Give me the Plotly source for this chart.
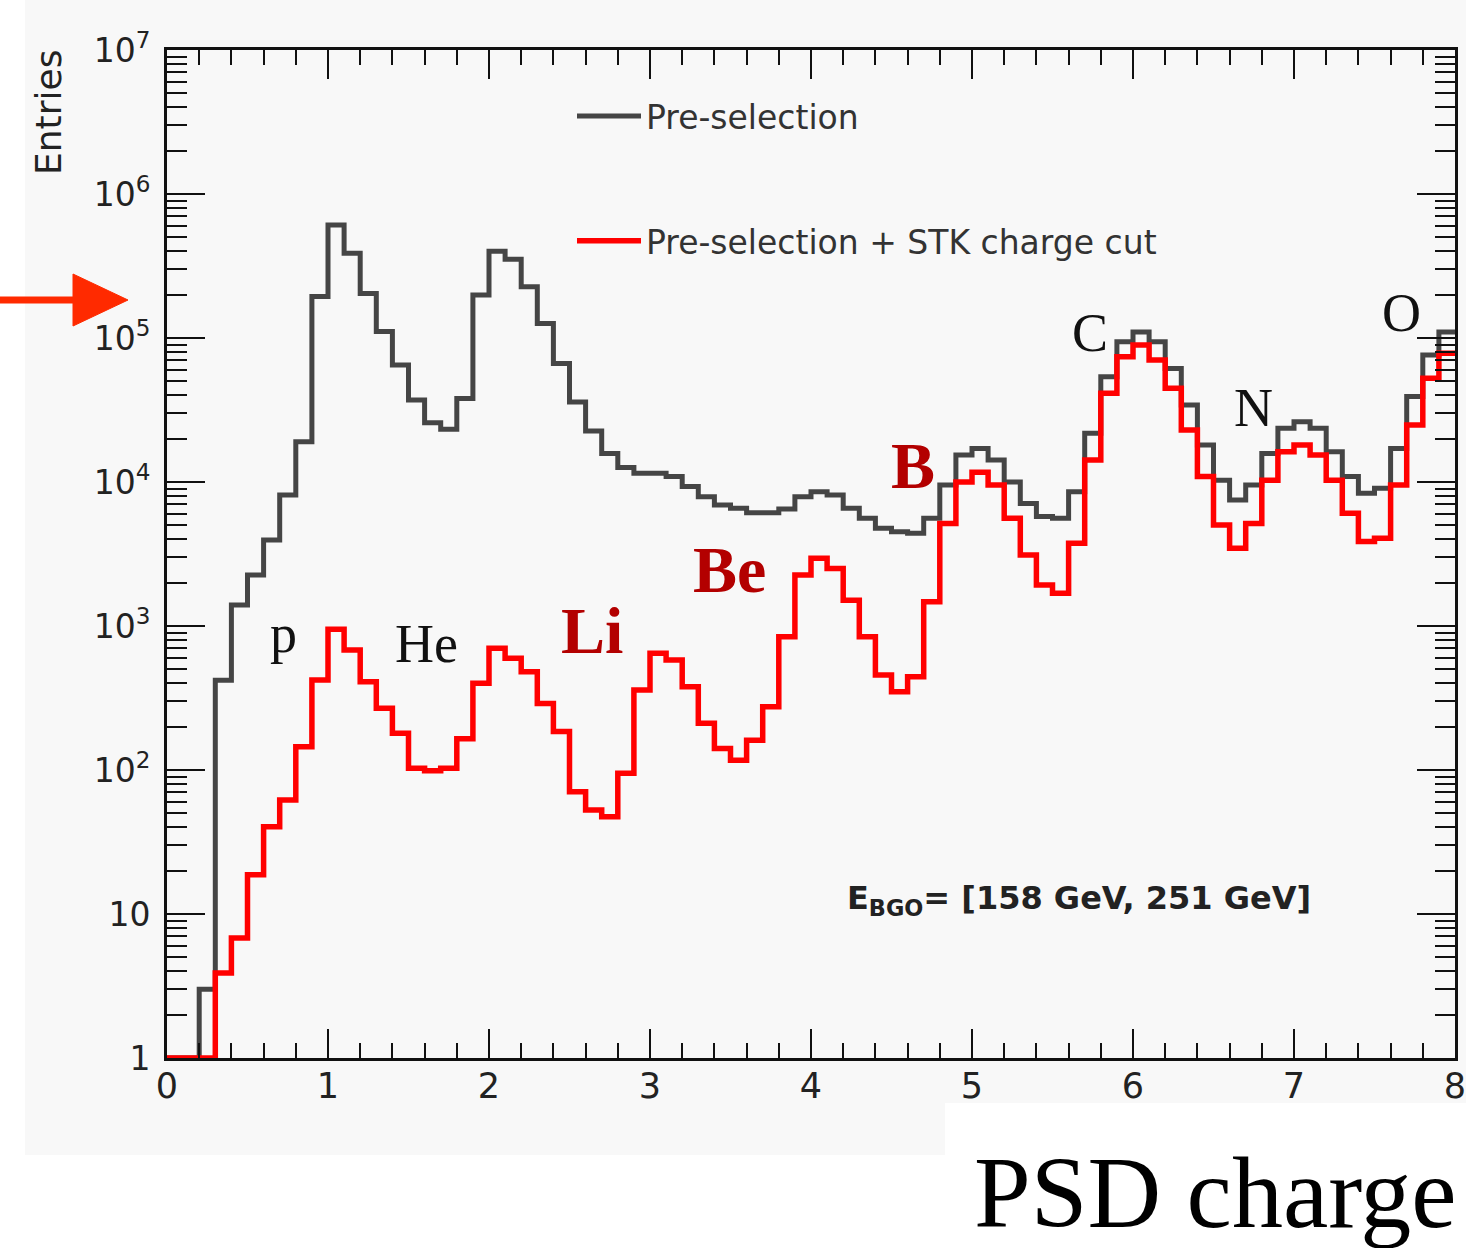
import numpy as np
import plotly.graph_objects as go

# ---------------- data ----------------
bin_width = 0.1
x_min, x_max = 0.0, 8.0

series_names = ["Pre-selection", "Pre-selection + STK charge cut"]

pre_selection = [
    1, 1, 3, 420, 1400, 2260, 3960, 8130, 19000, 194000,
    610000, 387000, 204000, 111000, 65000, 37100, 25800, 23200, 38000, 199000,
    400000, 352000, 227000, 126000, 66500, 36000, 22600, 15800, 12600, 11500,
    11500, 10900, 9290, 7910, 6920, 6570, 6120, 6120, 6500, 7900,
    8570, 8130, 6570, 5600, 4770, 4520, 4400, 5600, 9530, 15400,
    17100, 14200, 10000, 7100, 5750, 5600, 8570, 21800, 53900, 94300,
    110000, 94300, 61500, 34300, 18100, 10300, 7500, 9530, 15800, 23600,
    26200, 23600, 16200, 10900, 8360, 9040, 17100, 39200, 76200, 110000,
]

stk_charge_cut = [
    1, 1, 1, 3.9, 6.8, 18.7, 40.4, 62, 145, 422,
    948, 681, 410, 268, 180, 103, 99, 103, 165, 400,
    700, 597, 482, 290, 185, 70.7, 52.7, 47.4, 94.9, 359,
    646, 581, 379, 211, 141, 117, 161, 275, 843, 2260,
    2950, 2510, 1510, 843, 457, 350, 445, 1475, 5160, 10000,
    11700, 9530, 5600, 3110, 1930, 1690, 3750, 14200, 41300, 74200,
    89300, 70300, 44700, 23000, 10900, 5020, 3460, 5160, 10300, 16200,
    18100, 15400, 10300, 6060, 3860, 4070, 9530, 24900, 52500, 78300,
]

x_tick_vals = [0, 1, 2, 3, 4, 5, 6, 7, 8]
x_tick_text = ["0", "1", "2", "3", "4", "5", "6", "7", "8"]
y_tick_vals = [1, 10, 100, 1e3, 1e4, 1e5, 1e6, 1e7]
y_tick_text = ["1", "10", "10<sup>2</sup>", "10<sup>3</sup>", "10<sup>4</sup>",
               "10<sup>5</sup>", "10<sup>6</sup>", "10<sup>7</sup>"]

element_labels = ["p", "He", "Li", "Be", "B", "C", "N", "O"]
y_title = "Entries"
x_title = "PSD charge"
energy_text = "E<sub>BGO</sub>= [158 GeV, 251 GeV]"

# ---------------- layout helpers (pixels -> paper) ----------------
W, H = 1466, 1248
PX_L, PX_R, PX_T, PX_B = 167, 1455, 50, 1058


def pxx(px):
    return (px - PX_L) / (PX_R - PX_L)


def pxy(py):
    return (PX_B - py) / (PX_B - PX_T)


edges = np.round(np.arange(x_min, x_max + bin_width / 2, bin_width), 6)


def step(vals):
    xs = list(edges[:-1]) + [edges[-1]]
    ys = list(vals) + [vals[-1]]
    return xs, ys


fig = go.Figure()
colors = ["#454545", "#ff0000"]
widths = [5, 5.5]
for i, (name, vals) in enumerate(zip(series_names, [pre_selection, stk_charge_cut])):
    xs, ys = step(vals)
    fig.add_trace(go.Scatter(
        x=xs, y=ys, mode="lines", name=name,
        line=dict(color=colors[i], width=widths[i], shape="hv"),
        legendgroup=f"g{i}",
    ))

minor_y = [m * 10 ** d for d in range(0, 7) for m in range(2, 10)]

fig.update_xaxes(
    range=[x_min, x_max], tickvals=x_tick_vals, ticktext=x_tick_text,
    ticks="inside", ticklen=29, tickwidth=2, tickcolor="#111",
    showline=True, linecolor="#111", linewidth=3, mirror="allticks",
    showgrid=False, zeroline=False, automargin=False,
    ticklabeloverflow="allow",
    tickfont=dict(family="DejaVu Sans", size=35, color="#222"),
    minor=dict(ticks="inside", dtick=0.2, tick0=0, ticklen=15, tickwidth=2,
               tickcolor="#111", showgrid=False),
)
try:
    fig.update_xaxes(ticklabelstandoff=-5)
except ValueError:
    fig.update_xaxes(ticklabelstandoff=0)

fig.update_yaxes(
    type="log", range=[0, 7], tickvals=y_tick_vals, ticktext=y_tick_text,
    ticks="inside", ticklen=38, tickwidth=2, tickcolor="#111",
    showline=True, linecolor="#111", linewidth=3, mirror="allticks",
    showgrid=False, zeroline=False, automargin=False,
    ticklabeloverflow="allow",
    tickfont=dict(family="DejaVu Sans", size=33, color="#222"),
    ticklabelstandoff=7,
    minor=dict(ticks="inside", tickvals=minor_y, ticklen=20, tickwidth=2,
               tickcolor="#111", showgrid=False),
)

BG = "#f8f8f8"
shapes = [
    # white margins outside the original canvas
    dict(type="rect", xref="paper", yref="paper", x0=pxx(-5), x1=pxx(25), y0=pxy(1260), y1=pxy(-5),
         fillcolor="white", line=dict(width=0), layer="below"),
    dict(type="rect", xref="paper", yref="paper", x0=pxx(-5), x1=pxx(1475), y0=pxy(1260), y1=pxy(1155),
         fillcolor="white", line=dict(width=0), layer="below"),
    dict(type="rect", xref="paper", yref="paper", x0=pxx(945), x1=pxx(1475), y0=pxy(1260), y1=pxy(1103),
         fillcolor="white", line=dict(width=0), layer="below"),
    # red arrow
    dict(type="line", xref="paper", yref="paper", x0=pxx(0), x1=pxx(78), y0=pxy(300), y1=pxy(300),
         line=dict(color="#ff2a00", width=7)),
    dict(type="path", xref="paper", yref="paper",
         path=f"M {pxx(73)},{pxy(274)} L {pxx(128)},{pxy(300)} L {pxx(73)},{pxy(326)} Z",
         fillcolor="#ff2a00", line=dict(color="#ff2a00", width=1)),
]

# element labels: (center px x, middle px y, size, bold)
label_pos = [
    (283, 634, 54, False), (426, 644, 54, False), (592, 630, 66, True), (729, 569, 66, True),
    (913, 465, 66, True), (1090, 333, 54, False), (1253, 408, 54, False), (1401, 313, 54, False),
]
annotations = []
for txt, (cx, cy, sz, bold) in zip(element_labels, label_pos):
    annotations.append(dict(
        text=f"<b>{txt}</b>" if bold else txt, xref="paper", yref="paper",
        x=pxx(cx), y=pxy(cy), xanchor="center", yanchor="middle", showarrow=False,
        font=dict(family="Liberation Serif", size=sz, color="#b30000" if bold else "#111"),
    ))

annotations.append(dict(
    text=y_title, textangle=-90, xref="paper", yref="paper", x=pxx(48), y=pxy(113),
    xanchor="center", yanchor="middle", showarrow=False,
    font=dict(family="DejaVu Sans", size=36, color="#222"),
))
annotations.append(dict(
    text=f"<b>{energy_text}</b>", xref="paper", yref="paper", x=pxx(845), y=pxy(900),
    xanchor="left", yanchor="middle", showarrow=False,
    font=dict(family="DejaVu Sans", size=32, color="#222"),
))
annotations.append(dict(
    text=x_title, xref="paper", yref="paper", x=pxx(1459), y=pxy(1192),
    xanchor="right", yanchor="middle", showarrow=False,
    font=dict(family="Liberation Serif", size=102, color="#000"),
))

fig.update_layout(
    width=W, height=H,
    margin=dict(l=PX_L, r=W - PX_R, t=PX_T, b=H - PX_B, pad=0, autoexpand=False),
    paper_bgcolor=BG, plot_bgcolor=BG,
    showlegend=True,
    legend=dict(
        x=pxx(572), y=pxy(88), xanchor="left", yanchor="top",
        font=dict(family="DejaVu Sans", size=33, color="#333"),
        bgcolor="rgba(0,0,0,0)", borderwidth=0,
        traceorder="grouped", tracegroupgap=79, itemwidth=64,
    ),
    shapes=shapes,
    annotations=annotations,
)

fig.write_html("out.html")
